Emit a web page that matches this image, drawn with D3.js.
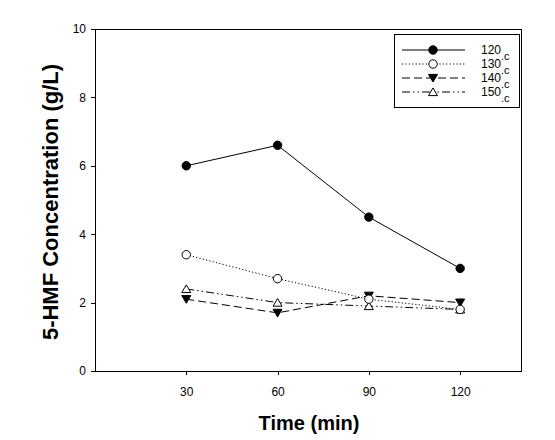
<!DOCTYPE html>
<html><head><meta charset="utf-8">
<script src="https://cdn.jsdelivr.net/npm/d3@7"></script>
<style>body{margin:0;background:#fff;} svg{display:block;}</style>
</head><body>
<svg id="c" width="555" height="440"></svg>
<script>
const times = [30, 60, 90, 120];
const seriesNames = ["120", "130", "140", "150"];
const s120 = [6.0, 6.6, 4.5, 3.0];
const s130 = [3.4, 2.7, 2.1, 1.8];
const s140 = [2.1, 1.7, 2.2, 2.0];
const s150 = [2.4, 2.0, 1.9, 1.8];
const xTicks = [30, 60, 90, 120];
const yTicks = [0, 2, 4, 6, 8, 10];

const series = [
  {name: seriesNames[0], values: s120, dash: null, marker: "circle", fill: "#000"},
  {name: seriesNames[1], values: s130, dash: "1.2,2.2", marker: "circle", fill: "#fff"},
  {name: seriesNames[2], values: s140, dash: "8,4", marker: "tridown", fill: "#000"},
  {name: seriesNames[3], values: s150, dash: "8,3,1.5,3,1.5,3", marker: "triup", fill: "#fff"}
];

const svg = d3.select("#c");
const L = 95, R = 521, T = 29, B = 371;
const x = d3.scaleLinear().domain([0, 140]).range([L, R]);
const y = d3.scaleLinear().domain([0, 10]).range([B, T]);
const font = "'Liberation Sans', Arial, sans-serif";
const narrow = "'Liberation Sans Narrow', 'Arial Narrow', 'Liberation Sans', sans-serif";

svg.append("rect").attr("x", L).attr("y", T).attr("width", R - L).attr("height", B - T)
  .attr("fill", "none").attr("stroke", "#000").attr("stroke-width", 1).attr("shape-rendering", "crispEdges");

const xa = svg.append("g").attr("transform", `translate(0,${B})`)
  .call(d3.axisBottom(x).tickValues(xTicks).tickSize(4).tickPadding(12));
const ya = svg.append("g").attr("transform", `translate(${L},0)`)
  .call(d3.axisLeft(y).tickValues(yTicks).tickSize(4).tickPadding(5));
[xa, ya].forEach(a => {
  a.select(".domain").remove();
  a.selectAll("line").attr("stroke", "#000").attr("shape-rendering", "crispEdges");
  a.selectAll("text").attr("font-family", narrow).attr("font-size", "12px").attr("fill", "#000");
});

svg.append("text").attr("x", (L + R) / 2 + 1).attr("y", 430).attr("text-anchor", "middle")
  .attr("font-family", font).attr("font-weight", "bold").attr("font-size", "20px").text("Time (min)");
svg.append("text").attr("transform", `translate(58,202) rotate(-90)`).attr("text-anchor", "middle")
  .attr("font-family", font).attr("font-weight", "bold").attr("font-size", "22px").text("5-HMF Concentration (g/L)");

function drawMarker(g, type, cx, cy, fill) {
  if (type === "circle") {
    g.append("circle").attr("cx", cx).attr("cy", cy).attr("r", 4.2)
      .attr("fill", fill).attr("stroke", "#000").attr("stroke-width", 1);
  } else {
    const s = 4.5;
    const pts = type === "triup"
      ? [[cx - s, cy + s * 0.8], [cx + s, cy + s * 0.8], [cx, cy - s * 0.9]]
      : [[cx - s, cy - s * 0.8], [cx + s, cy - s * 0.8], [cx, cy + s * 0.9]];
    g.append("polygon").attr("points", pts.map(p => p.join(",")).join(" "))
      .attr("fill", fill).attr("stroke", "#000").attr("stroke-width", 1);
  }
}

const line = d3.line().x(d => x(d[0])).y(d => y(d[1]));
series.forEach(s => {
  const pts = times.map((t, i) => [t, s.values[i]]);
  svg.append("path").attr("d", line(pts)).attr("fill", "none").attr("stroke", "#000")
    .attr("stroke-width", 1).attr("stroke-dasharray", s.dash);
});
series.slice().reverse().forEach(s => {
  const g = svg.append("g");
  times.forEach((t, i) => drawMarker(g, s.marker, x(t), y(s.values[i]), s.fill));
});

// legend
const lg = svg.append("g");
lg.append("rect").attr("x", 394).attr("y", 34).attr("width", 125).attr("height", 73)
  .attr("fill", "#fff").attr("stroke", "#000").attr("stroke-width", 1).attr("shape-rendering", "crispEdges");
series.forEach((s, i) => {
  const cy = 50 + i * 14;
  lg.append("line").attr("x1", 402).attr("x2", 465).attr("y1", cy).attr("y2", cy)
    .attr("stroke", "#000").attr("stroke-width", 1).attr("stroke-dasharray", s.dash);
  drawMarker(lg, s.marker, 433, cy, s.fill);
  const t = lg.append("text").attr("x", 481).attr("y", cy + 4)
    .attr("font-family", narrow).attr("font-size", "12px").attr("fill", "#000");
  t.append("tspan").text(s.name);
  t.append("tspan").attr("dy", 6).attr("font-size", "11px").text(".c");
});
</script>
</body></html>
